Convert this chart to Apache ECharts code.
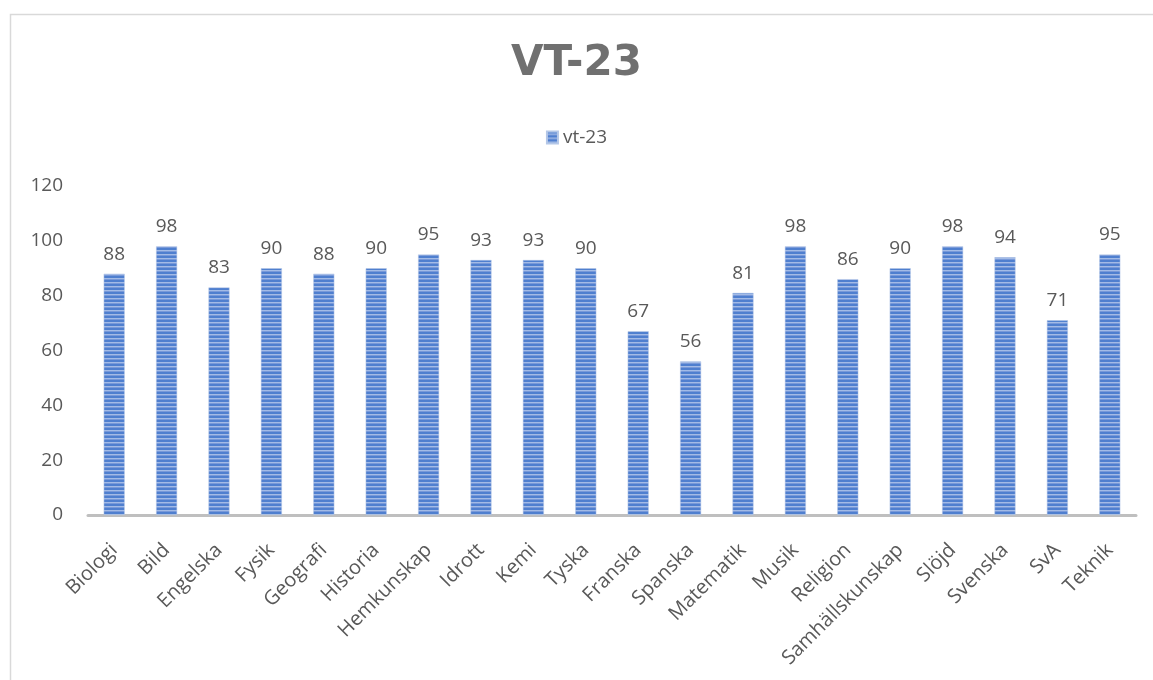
<!DOCTYPE html>
<html>
<head>
<meta charset="utf-8">
<script src="https://cdn.jsdelivr.net/npm/echarts@6/dist/echarts.min.js"></script>
<style>html,body{margin:0;padding:0;background:#fff;}#c{width:1153px;height:680px;}</style>
</head>
<body>
<div id="c"></div>
<script>
const categories = ["Biologi","Bild","Engelska","Fysik","Geografi","Historia","Hemkunskap","Idrott","Kemi","Tyska","Franska","Spanska","Matematik","Musik","Religion","Samhällskunskap","Slöjd","Svenska","SvA","Teknik"];
const values = [88,98,83,90,88,90,95,93,93,90,67,56,81,98,86,90,98,94,71,95];
const seriesName = "vt-23";
const titleText = "VT-23";

function stripe(){
  const cv = document.createElement('canvas');
  cv.width = 4; cv.height = 4;
  const ctx = cv.getContext('2d');
  ctx.fillStyle = '#4f7fcf'; ctx.fillRect(0,0,4,4);
  ctx.fillStyle = '#a3bbe6'; ctx.fillRect(0,2,4,1);
  ctx.fillStyle = '#7899d9'; ctx.fillRect(0,3,4,1);
  return cv;
}
const pat = {image: stripe(), repeat: 'repeat'};
const FF = 'Open Sans, Liberation Sans, sans-serif';

const chart = echarts.init(document.getElementById('c'));
chart.setOption({
  animation:false,
  backgroundColor:'#fff',
  textStyle:{fontFamily:FF},
  graphic:[
    {type:'rect',shape:{x:10.5,y:14.5,width:1160,height:700},style:{fill:'none',stroke:'#d9d9d9',lineWidth:1.5},silent:true}
  ],
  title:{text:titleText,left:'center',top:38,textStyle:{fontSize:42,fontWeight:'bold',color:'#707070',fontFamily:'DejaVu Sans'}},
  legend:{top:123,left:'center',itemWidth:11,itemHeight:12,itemGap:8,icon:'rect',textStyle:{fontSize:19,color:'#595959'},data:[{name:seriesName,itemStyle:{color:pat}}]},
  grid:{left:88,right:17,top:186,bottom:165,containLabel:false},
  xAxis:{type:'category',data:categories,axisTick:{show:false},
    axisLine:{lineStyle:{color:'#bfbfbf',width:3}},
    axisLabel:{rotate:45,fontSize:20,color:'#595959',interval:0,margin:32}},
  yAxis:{type:'value',min:0,max:120,interval:20,splitLine:{show:false},axisLine:{show:false},axisTick:{show:false},
    axisLabel:{fontSize:19,color:'#595959',margin:25}},
  series:[{name:seriesName,type:'bar',data:values,barWidth:21,
    itemStyle:{color:pat,borderColor:'#b4c7e7',borderWidth:0.5},
    label:{show:true,position:'top',distance:10,fontSize:19,color:'#595959'}}]
});
</script>
</body>
</html>
